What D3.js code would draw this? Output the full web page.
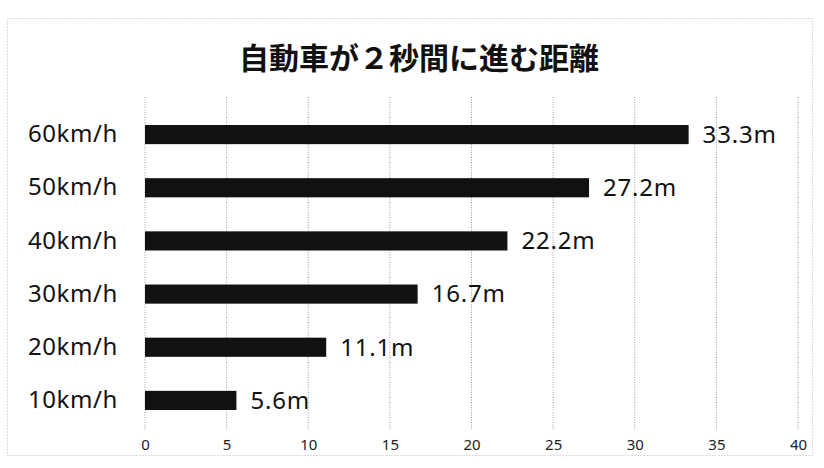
<!DOCTYPE html>
<html lang="ja">
<head>
  <meta charset="UTF-8">
  <title>自動車が２秒間に進む距離</title>
  <script src="https://d3js.org/d3.v7.min.js"></script>
  <style>
    * { margin: 0; padding: 0; box-sizing: border-box; }
    body { background: #fff; font-family: "Noto Sans", "Noto Sans CJK JP", sans-serif; }
  </style>
</head>
<body>
  <div id="chart"></div>
  <script>
    // data
    const speeds = ["10km/h", "20km/h", "30km/h", "40km/h", "50km/h", "60km/h"];
    const distances = [5.6, 11.1, 16.7, 22.2, 27.2, 33.3];
    const xTicks = [0, 5, 10, 15, 20, 25, 30, 35, 40];
    const title = "自動車が２秒間に進む距離";

    const W = 824, H = 468;
    const data = speeds.map((s, i) => ({ speed: s, dist: distances[i] }));

    const svg = d3.select("#chart").append("svg")
      .attr("width", W)
      .attr("height", H);

    // outer frame
    svg.append("rect")
      .attr("x", 7.5).attr("y", 18.5)
      .attr("width", 805).attr("height", 437)
      .attr("fill", "none")
      .attr("stroke", "#b8b8b8")
      .attr("stroke-dasharray", "1,2");

    const x = d3.scaleLinear().domain([0, 40]).range([145, 798]);
    const y = d3.scaleBand()
      .domain(speeds.slice().reverse())
      .range([108, 427])
      .paddingInner(0.64)
      .paddingOuter(0.32);

    svg.append("text")
      .attr("x", 419).attr("y", 69)
      .attr("text-anchor", "middle")
      .style("font-family", "'Noto Sans CJK JP', sans-serif")
      .style("font-size", "30px")
      .style("font-weight", "bold")
      .style("fill", "#111")
      .text(title);

    // vertical grid
    svg.append("g")
      .selectAll("line")
      .data(xTicks)
      .join("line")
      .attr("x1", d => x(d)).attr("x2", d => x(d))
      .attr("y1", 97).attr("y2", 430)
      .attr("stroke", "#9a9a9a")
      .attr("stroke-width", 1)
      .attr("stroke-dasharray", "1,1.5");

    // x tick labels
    const xAxis = svg.append("g")
      .attr("transform", "translate(0,439)")
      .call(d3.axisBottom(x).tickValues(xTicks).tickSize(0).tickPadding(0));
    xAxis.select(".domain").remove();
    xAxis.selectAll("text")
      .attr("dy", "0.71em")
      .style("font-family", "'Noto Sans', sans-serif")
      .style("font-size", "15px")
      .style("fill", "#222");

    // y category labels
    const yAxis = svg.append("g")
      .attr("transform", "translate(118,0)")
      .call(d3.axisLeft(y).tickSize(0).tickPadding(0));
    yAxis.select(".domain").remove();
    yAxis.selectAll("text")
      .style("font-family", "'Noto Sans', sans-serif")
      .style("font-size", "24px")
      .style("letter-spacing", "0.6px")
      .style("fill", "#111");

    svg.selectAll(".bar")
      .data(data)
      .join("rect")
      .attr("class", "bar")
      .attr("x", x(0))
      .attr("y", d => y(d.speed))
      .attr("width", d => x(d.dist) - x(0))
      .attr("height", y.bandwidth())
      .attr("fill", "#111");

    svg.selectAll(".val")
      .data(data)
      .join("text")
      .attr("class", "val")
      .attr("x", d => x(d.dist) + 14)
      .attr("y", d => y(d.speed) + y.bandwidth() / 2)
      .attr("dy", "0.35em")
      .style("font-family", "'Noto Sans', sans-serif")
      .style("font-size", "24px")
      .style("letter-spacing", "0.8px")
      .style("fill", "#111")
      .text(d => d3.format(".1f")(d.dist) + "m");
  </script>
</body>
</html>
